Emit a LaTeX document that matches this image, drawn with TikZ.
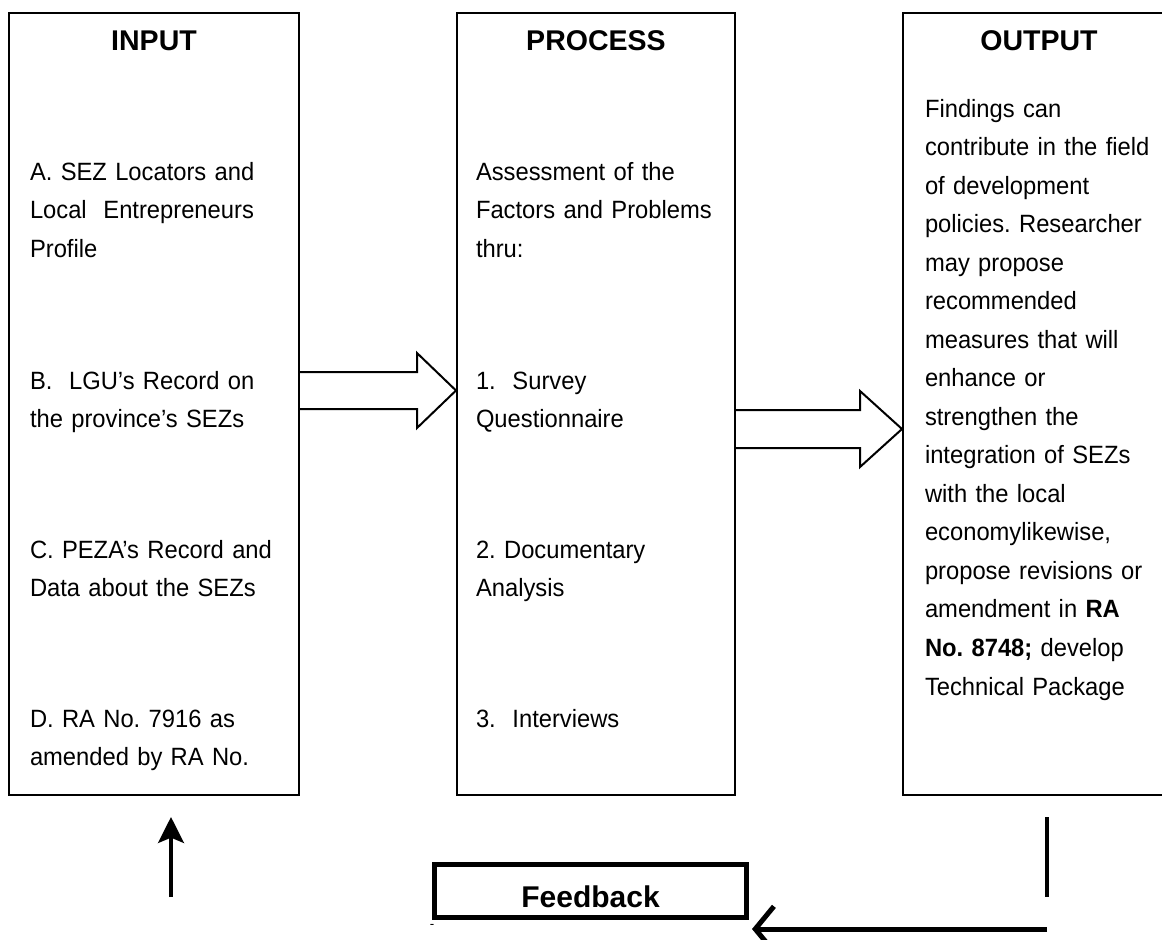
\documentclass[tikz,border=0pt]{standalone}
\usepackage{fontspec}
\setmainfont{Liberation Sans}
\newfontfamily\bodyfont[FakeStretch=0.95]{Liberation Sans}
\usetikzlibrary{calc,arrows.meta}

\tikzset{every picture/.style={line width=1.5pt}}
\tikzset{
  frame/.style={draw, line width=1.5pt, inner sep=0pt, minimum height=586.5pt},
  heading/.style={font=\fontsize{21.4}{25}\selectfont\bfseries, inner sep=0pt, anchor=base},
  body/.style={font=\bodyfont\fontsize{18.75}{28.9}\selectfont\frenchspacing, inner sep=0pt, anchor=base west, align=left, text width=#1},
  body/.default=195pt,
  hollow/.style={line width=1.5pt, line join=miter},
  fbbox/.style={draw, line width=3.75pt, inner sep=0pt, minimum width=234pt, minimum height=39.75pt,
    font=\fontsize{22.5}{26}\selectfont\bfseries, text height=24pt, text depth=0pt},
  uparrow/.style={line width=2.4pt, -{Stealth[length=19.5pt,width=19.5pt,inset=4pt]}},
  backarrow/.style={line width=3.75pt, -{Straight Barb[length=14pt,width=34pt]}}
}

% block arrow: tail, tip, shaft half width, head half width, head length
\newcommand{\hollowarrow}[5]{%
  \draw[hollow] ($(#1)+(0,-#3)$) -- ($(#2)+(-#5,-#3)$) -- ($(#2)+(-#5,-#4)$) -- (#2) -- ($(#2)+(-#5,#4)$) -- ($(#2)+(-#5,#3)$) -- ($(#1)+(0,#3)$);
}

\begin{document}
\begin{tikzpicture}[x=0.75pt,y=0.75pt,yscale=-1,xscale=1]
\clip (0,0) rectangle (1162,939);

%Shape: Rectangle
\node (input) [frame, minimum width=217.5pt] at (154,404) {};
%Shape: Rectangle
\node (process) [frame, minimum width=208.5pt] at (596,404) {};
%Shape: Rectangle
\node (output) [frame, minimum width=204pt] at (1039,404) {};
%Shape: Rectangle
\node (feedback) [fbbox] at (590.5,891) {Feedback};

% Text Node
\node (inHead) [heading] at (154,50) {INPUT};
% Text Node
\node (procHead) [heading] at (596,50) {PROCESS};
% Text Node
\node (outHead) [heading] at (1039,50) {OUTPUT};

% Text Node
\node (inA) [body] at (29,180) {A. SEZ Locators and\\Local~~Entrepreneurs\\Profile};
% Text Node
\node (inB) [body] at (29,389) {B.~~LGU’s Record on\\the province’s SEZs};
% Text Node
\node (inC) [body] at (29,558) {C. PEZA’s Record and\\Data about the SEZs};
% Text Node
\node (inD) [body] at (29,727) {\makebox[162.75pt][s]{D. RA No. 7916 as}\\amended by RA No.};

% Text Node
\node (procA) [body] at (475,180) {Assessment of the\\Factors and Problems\\thru:};
% Text Node
\node (procB) [body] at (475,389) {1.~~Survey\\Questionnaire};
% Text Node
\node (procC) [body] at (475,558) {2. Documentary\\Analysis};
% Text Node
\node (procD) [body] at (475,727) {3.~~Interviews};

% Text Node
\node (outText) [body=187pt] at (924,117) {Findings can\\contribute in the field\\of development\\policies. Researcher\\may propose\\recommended\\measures that will\\enhance or\\strengthen the\\integration of SEZs\\with the local\\economylikewise,\\propose revisions or\\amendment in \textbf{RA}\\\textbf{No. 8748;} develop\\Technical Package};

% Text Node
\node (dash) [font=\fontsize{10}{10}\selectfont, inner sep=0pt] at (432,926) {-};

%Block Arrows
\coordinate (arrA) at (0,390.5);
\coordinate (arrB) at (0,429);
\hollowarrow{input.east |- arrA}{process.west |- arrA}{18.5}{37.5}{39}
\hollowarrow{process.east |- arrB}{output.west |- arrB}{19}{38}{42}

%Straight Lines
\coordinate (upTail) at (171,897);
\coordinate (upTip) at (171,817);
\draw[uparrow] (upTail) -- (upTip);
\coordinate (fbTop) at (1047,817);
\coordinate (fbBot) at (1047,897);
\draw[line width=3pt] (fbTop) -- (fbBot);
\coordinate (fbStart) at (1047,929);
\coordinate (fbEnd) at (feedback.south east |- fbStart);
\draw[backarrow] (fbStart) -- ([xshift=2.25pt]fbEnd);

\end{tikzpicture}
\end{document}
